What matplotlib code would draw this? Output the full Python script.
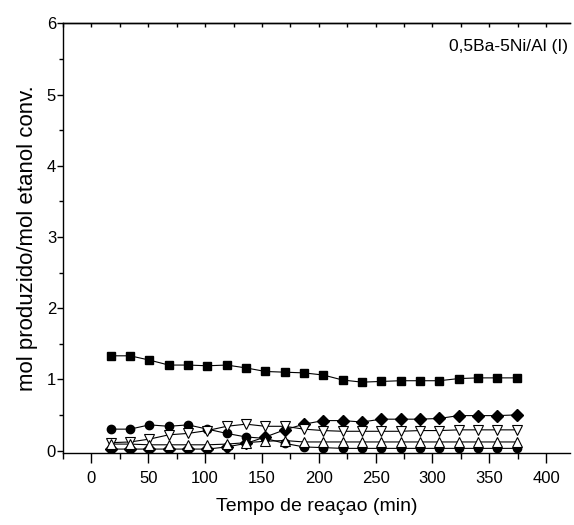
import matplotlib
matplotlib.use("Agg")
import matplotlib.pyplot as plt
from matplotlib.ticker import MultipleLocator

#### [ Dados ] ####
tempo = [17, 34, 51, 68, 85, 102, 119, 136, 153, 170, 187,
         204, 221, 238, 255, 272, 289, 306, 323, 340, 357, 374]

quadrados = [1.33, 1.33, 1.27, 1.20, 1.20, 1.19, 1.20, 1.16, 1.11, 1.10, 1.09,
             1.06, 0.99, 0.96, 0.97, 0.98, 0.98, 0.98, 1.01, 1.02, 1.02, 1.02]
circulos = [0.30, 0.30, 0.36, 0.34, 0.36, 0.30, 0.24, 0.19, 0.17, 0.10, 0.05,
            0.04, 0.03, 0.03, 0.03, 0.03, 0.03, 0.03, 0.03, 0.03, 0.03, 0.03]
losangos = [0.02, 0.02, 0.02, 0.02, 0.02, 0.02, 0.05, 0.10, 0.19, 0.29, 0.37,
            0.42, 0.42, 0.40, 0.44, 0.44, 0.44, 0.45, 0.49, 0.49, 0.49, 0.50]
tri_baixo = [0.11, 0.12, 0.16, 0.22, 0.24, 0.28, 0.34, 0.37, 0.34, 0.34, 0.30,
             0.28, 0.27, 0.27, 0.27, 0.27, 0.28, 0.28, 0.29, 0.29, 0.29, 0.29]
tri_cima = [0.09, 0.09, 0.08, 0.08, 0.08, 0.08, 0.09, 0.11, 0.13, 0.14, 0.12,
            0.12, 0.12, 0.12, 0.12, 0.12, 0.12, 0.12, 0.12, 0.12, 0.12, 0.12]

amostra = "0,5Ba-5Ni/Al (I)"

#### [ Figura ] ####
plt.rcParams['font.family'] = ['Liberation Sans', 'DejaVu Sans']

fig = plt.figure(figsize=(5.74, 5.25), dpi=100)
ax = fig.add_axes([0.1098, 0.1377, 0.8832, 0.8179])

kw = dict(color='black', lw=0.8)
# cheios primeiro, abertos por cima
ax.plot(tempo, quadrados, marker='s', ms=5.8, mfc='black', mec='black', **kw)
ax.plot(tempo, circulos, marker='o', ms=6, mfc='black', mec='black', **kw)
ax.plot(tempo, losangos, marker='D', ms=6, mfc='black', mec='black', **kw)
ax.plot(tempo, tri_baixo, marker='v', ms=6.5, mfc='white', mec='black', mew=0.8, **kw)
ax.plot(tempo, tri_cima, marker='^', ms=6.5, mfc='white', mec='black', mew=0.8, **kw)

ax.set_xlim(-25, 421)
ax.set_ylim(-0.031, 6)

ax.xaxis.set_major_locator(MultipleLocator(50))
ax.xaxis.set_minor_locator(MultipleLocator(25))
ax.yaxis.set_major_locator(MultipleLocator(1))
ax.yaxis.set_minor_locator(MultipleLocator(0.5))

ax.spines['right'].set_visible(False)
for s in ['left', 'bottom', 'top']:
    ax.spines[s].set_linewidth(1.0)

ax.tick_params(axis='x', which='major', direction='out', length=7, width=1, labelsize=12, pad=6)
ax.tick_params(axis='x', which='minor', direction='out', length=4, width=1)
ax.tick_params(axis='y', which='major', direction='out', length=4, width=1, labelsize=12, pad=1)
ax.tick_params(axis='y', which='minor', direction='out', length=3, width=1)

# ticks internos no eixo de cima
topo = ax.secondary_xaxis('top')
topo.xaxis.set_major_locator(MultipleLocator(25))
topo.tick_params(direction='in', length=3, width=1, labelsize=0)
topo.set_xticklabels([])
topo.spines['top'].set_linewidth(1.0)

ax.set_xlabel('Tempo de reaçao (min)', fontsize=14, labelpad=9)
ax.set_ylabel('mol produzido/mol etanol conv.', fontsize=16, labelpad=6)

ax.text(0.996, 0.945, amostra, transform=ax.transAxes, ha='right', va='center',
        fontsize=12.5)

fig.savefig('out.png', dpi=100)
